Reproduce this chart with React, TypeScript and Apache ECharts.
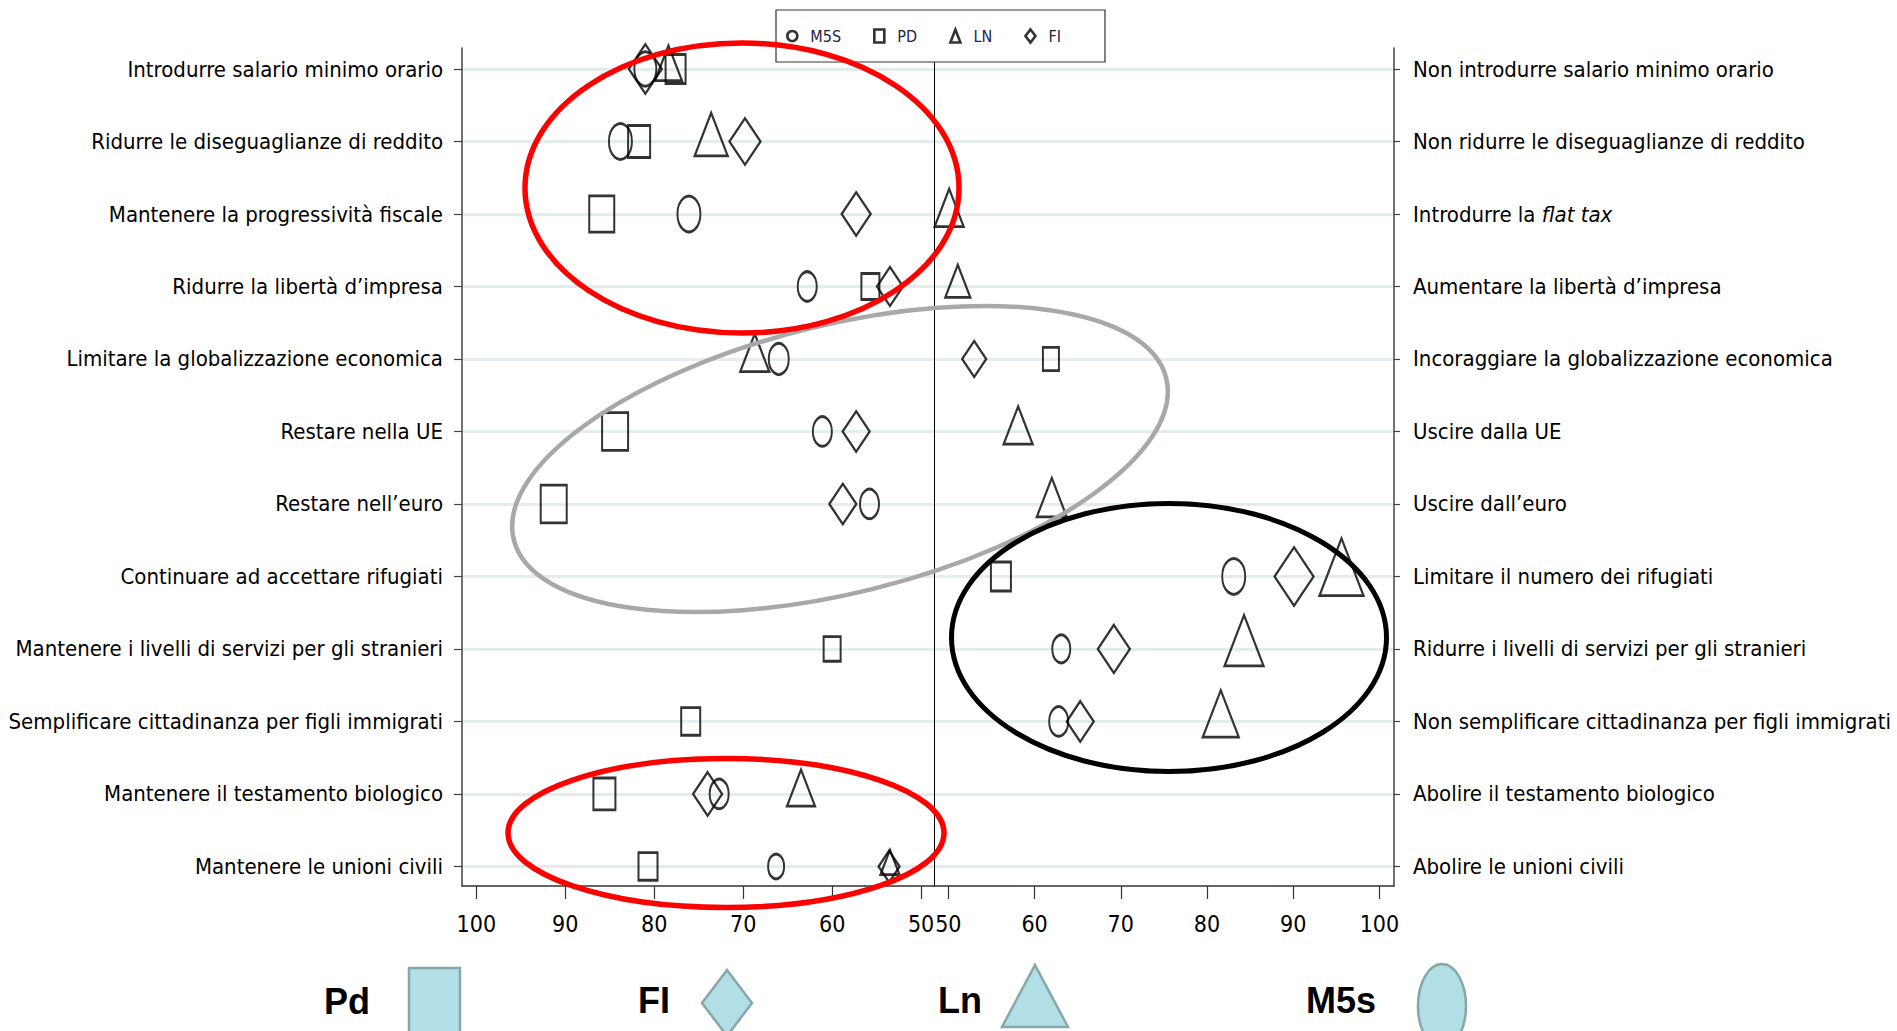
import React, { useEffect, useRef } from "react";
import * as echarts from "echarts";

// ---------- data ----------
const leftLabels = [
  "Introdurre salario minimo orario",
  "Ridurre le diseguaglianze di reddito",
  "Mantenere la progressività fiscale",
  "Ridurre la libertà d’impresa",
  "Limitare la globalizzazione economica",
  "Restare nella UE",
  "Restare nell’euro",
  "Continuare ad accettare rifugiati",
  "Mantenere i livelli di servizi per gli stranieri",
  "Semplificare cittadinanza per figli immigrati",
  "Mantenere il testamento biologico",
  "Mantenere le unioni civili",
];
const rightLabels = [
  "Non introdurre salario minimo orario",
  "Non ridurre le diseguaglianze di reddito",
  "Introdurre la flat tax",
  "Aumentare la libertà d’impresa",
  "Incoraggiare la globalizzazione economica",
  "Uscire dalla UE",
  "Uscire dall’euro",
  "Limitare il numero dei rifugiati",
  "Ridurre i livelli di servizi per gli stranieri",
  "Non semplificare cittadinanza per figli immigrati",
  "Abolire il testamento biologico",
  "Abolire le unioni civili",
];
const italicPhrase = "flat tax";
const xTicks = [50, 60, 70, 80, 90, 100];
const rowIndex = [0, 1, 2, 3, 4, 5, 6, 7, 8, 9, 10, 11];

// value (50..100) and on which side of the scale it lies (L = left statement, R = right statement)
const m5sValue = [81.0, 83.8, 76.1, 62.8, 66.0, 61.1, 55.8, 83.1, 63.1, 62.8, 72.7, 66.3];
const m5sSide = ["L", "L", "L", "L", "L", "L", "L", "R", "R", "R", "L", "L"];
const m5sWeight = [22, 23, 23, 19, 20, 19, 19, 23, 18, 19, 19, 16];

const pdValue = [77.6, 81.7, 85.9, 55.7, 61.9, 84.4, 91.3, 56.1, 60.0, 75.9, 85.6, 80.7];
const pdSide = ["L", "L", "L", "L", "R", "L", "L", "R", "L", "L", "L", "L"];
const pdWeight = [20, 22, 25, 18, 16, 26, 26, 20, 17, 19, 22, 19];

const lnValue = [78.4, 73.6, 50.1, 51.1, 68.7, 58.1, 62.0, 95.6, 84.3, 81.6, 63.5, 53.5];
const lnSide = ["L", "L", "R", "R", "L", "R", "R", "R", "R", "R", "L", "L"];
const lnWeight = [27, 33, 29, 25, 29, 29, 30, 44, 39, 36, 28, 19];

const fiValue = [81.0, 69.8, 57.3, 53.5, 53.0, 57.3, 58.8, 90.1, 69.2, 65.3, 74.0, 53.6];
const fiSide = ["L", "L", "L", "L", "R", "L", "L", "R", "R", "R", "L", "L"];
const fiWeight = [33, 31, 29, 26, 24, 27, 27, 39, 32, 27, 29, 21];

const partyNames = ["M5S", "PD", "LN", "FI"];
const bottomLegendNames = ["Pd", "FI", "Ln", "M5s"];

// ---------- styling ----------
const NARROW = "'DejaVu Sans Condensed', 'Liberation Sans Narrow', sans-serif";
const WIDE = "'Liberation Sans', Arial, sans-serif";
const Y_MIN = -0.29;
const Y_MAX = 11.27;
const LABEL_SIZE = 22;
const TICK_SIZE = 23;

function buildSeries(name: string, symbol: string, values: number[], sides: string[], weights: number[], ratio: number) {
  const out: any[] = [];
  ["L", "R"].forEach((side, gi) => {
    const data: any[] = [];
    values.forEach((v, i) => {
      if (sides[i] !== side) return;
      const w = weights[i];
      const h = w * ratio;
      data.push({
        value: [v, rowIndex[i]],
        symbolSize: [w, h],
        symbolOffset: symbol === "triangle" ? [0, -h / 6] : [0, 0],
      });
    });
    out.push({
      type: "scatter",
      name,
      symbol,
      xAxisIndex: gi,
      yAxisIndex: gi === 0 ? 0 : 2,
      data,
      z: 3,
      itemStyle: { color: "rgba(0,0,0,0)", borderColor: "#000", borderWidth: 2.4 },
      emphasis: { disabled: true },
    });
  });
  return out;
}

export default function App() {
  const ref = useRef<HTMLDivElement>(null);

  useEffect(() => {
    if (!ref.current) return;
    const chart = echarts.init(ref.current, undefined, { renderer: "svg" });

    const yCommon = {
      type: "value",
      min: Y_MIN,
      max: Y_MAX,
      inverse: true,
    };

    const xAxisCommon = (gridIndex: number, min: number, max: number, inverse: boolean) => ({
      type: "value",
      gridIndex,
      min,
      max,
      inverse,
      position: "bottom",
      axisLine: { show: true, onZero: false, lineStyle: { color: "#333", width: 1.5 } },
      axisTick: { show: true, customValues: xTicks, length: 13, lineStyle: { color: "#333", width: 1.2 } },
      axisLabel: {
        customValues: xTicks,
        fontSize: TICK_SIZE,
        fontFamily: NARROW,
        color: "#000",
        margin: 26,
        hideOverlap: false,
      },
      splitLine: { show: false },
    });

    const option: any = {
      animation: false,
      backgroundColor: "#fff",
      textStyle: { fontFamily: NARROW },
      grid: [
        { left: 462, top: 48, width: 472, height: 838, outerBoundsMode: "none", containLabel: false },
        { left: 934, top: 48, width: 460, height: 838, outerBoundsMode: "none", containLabel: false },
      ],
      xAxis: [xAxisCommon(0, 48.55, 101.61, true), xAxisCommon(1, 48.34, 101.69, false)],
      yAxis: [
        {
          ...yCommon,
          gridIndex: 0,
          position: "left",
          axisLine: { show: true, onZero: false, lineStyle: { color: "#444", width: 1.5 } },
          axisTick: { show: true, customValues: rowIndex, length: 8, lineStyle: { color: "#444", width: 1.2 } },
          axisLabel: {
            customValues: rowIndex,
            formatter: (v: number) => leftLabels[Math.round(v)] ?? "",
            fontSize: LABEL_SIZE,
            fontFamily: NARROW,
            color: "#000",
            margin: 19,
          },
          splitLine: { show: true, lineStyle: { color: "#e3eded", width: 3 } },
        },
        {
          ...yCommon,
          gridIndex: 0,
          position: "right",
          axisLine: { show: true, onZero: false, lineStyle: { color: "#000", width: 1 } },
          axisTick: { show: false },
          axisLabel: { show: false },
          splitLine: { show: false },
        },
        {
          ...yCommon,
          gridIndex: 1,
          position: "right",
          axisLine: { show: true, onZero: false, lineStyle: { color: "#444", width: 1.5 } },
          axisTick: { show: true, customValues: rowIndex, length: 6, lineStyle: { color: "#444", width: 1.2 } },
          axisLabel: {
            customValues: rowIndex,
            formatter: (v: number) => {
              const t = rightLabels[Math.round(v)] ?? "";
              return t.includes(italicPhrase) ? t.replace(italicPhrase, "{i|" + italicPhrase + "}") : t;
            },
            fontSize: LABEL_SIZE,
            fontFamily: NARROW,
            color: "#000",
            margin: 19,
            rich: { i: { fontStyle: "italic", fontSize: LABEL_SIZE, fontFamily: NARROW, color: "#000" } },
          },
          splitLine: { show: true, lineStyle: { color: "#e3eded", width: 3 } },
        },
      ],
      legend: {
        left: 776,
        top: 10,
        orient: "horizontal",
        padding: [18, 44, 18, 10],
        itemWidth: 10,
        itemHeight: 13,
        itemGap: 32,
        symbolKeepAspect: false,
        backgroundColor: "#fff",
        borderColor: "#333",
        borderWidth: 1.2,
        selectedMode: false,
        textStyle: { fontSize: 16, fontFamily: NARROW, color: "#22224a", lineHeight: 16, padding: [0, 0, 0, 8] },
        itemStyle: { color: "rgba(0,0,0,0)", borderColor: "#000", borderWidth: 2.6 },
        data: [
          { name: partyNames[0], icon: "circle" },
          { name: partyNames[1], icon: "rect" },
          { name: partyNames[2], icon: "triangle" },
          { name: partyNames[3], icon: "diamond" },
        ],
        z: 10,
      },
      series: [
        ...buildSeries(partyNames[0], "circle", m5sValue, m5sSide, m5sWeight, 1.55),
        ...buildSeries(partyNames[1], "rect", pdValue, pdSide, pdWeight, 1.45),
        ...buildSeries(partyNames[2], "triangle", lnValue, lnSide, lnWeight, 1.3),
        ...buildSeries(partyNames[3], "diamond", fiValue, fiSide, fiWeight, 1.5),
      ],
      graphic: [
        // annotation ellipses
        {
          type: "ellipse",
          z: 100,
          silent: true,
          shape: { cx: 742, cy: 188, rx: 217, ry: 145 },
          style: { fill: "none", stroke: "#ff0000", lineWidth: 5.5 },
        },
        {
          type: "ellipse",
          z: 99,
          silent: true,
          x: 840,
          y: 459,
          rotation: (13.9 * Math.PI) / 180,
          shape: { cx: 0, cy: 0, rx: 336, ry: 134 },
          style: { fill: "none", stroke: "#a8a8a8", lineWidth: 4.5 },
        },
        {
          type: "ellipse",
          z: 100,
          silent: true,
          shape: { cx: 1169, cy: 637.5, rx: 217.5, ry: 134 },
          style: { fill: "none", stroke: "#000", lineWidth: 5 },
        },
        {
          type: "ellipse",
          z: 100,
          silent: true,
          shape: { cx: 726, cy: 833, rx: 218, ry: 74.5 },
          style: { fill: "none", stroke: "#ff0000", lineWidth: 5.5 },
        },
        // bottom legend
        {
          type: "text",
          z: 100,
          x: 347,
          y: 1001,
          style: { text: bottomLegendNames[0], font: "bold 36px " + WIDE, fill: "#000", align: "center", verticalAlign: "middle" },
        },
        {
          type: "rect",
          z: 100,
          shape: { x: 409, y: 968, width: 51, height: 80 },
          style: { fill: "#b2dfe5", stroke: "#86a7aa", lineWidth: 2.5 },
        },
        {
          type: "text",
          z: 100,
          x: 654,
          y: 1000,
          style: { text: bottomLegendNames[1], font: "bold 36px " + WIDE, fill: "#000", align: "center", verticalAlign: "middle" },
        },
        {
          type: "polygon",
          z: 100,
          shape: { points: [[727, 970], [752, 1003], [727, 1036], [702, 1003]] },
          style: { fill: "#b2dfe5", stroke: "#86a7aa", lineWidth: 2.5 },
        },
        {
          type: "text",
          z: 100,
          x: 960,
          y: 1000,
          style: { text: bottomLegendNames[2], font: "bold 36px " + WIDE, fill: "#000", align: "center", verticalAlign: "middle" },
        },
        {
          type: "polygon",
          z: 100,
          shape: { points: [[1035, 965], [1068, 1027], [1002, 1027]] },
          style: { fill: "#b2dfe5", stroke: "#86a7aa", lineWidth: 2.5 },
        },
        {
          type: "text",
          z: 100,
          x: 1341,
          y: 1000,
          style: { text: bottomLegendNames[3], font: "bold 36px " + WIDE, fill: "#000", align: "center", verticalAlign: "middle" },
        },
        {
          type: "ellipse",
          z: 100,
          shape: { cx: 1442, cy: 1006, rx: 24, ry: 42 },
          style: { fill: "#b2dfe5", stroke: "#86a7aa", lineWidth: 2.5 },
        },
      ],
    };

    chart.setOption(option);
    return () => chart.dispose();
  }, []);

  return (
    <div
      ref={ref}
      style={{ position: "fixed", left: 0, top: 0, width: "1897px", height: "1031px", background: "#fff" }}
    />
  );
}
